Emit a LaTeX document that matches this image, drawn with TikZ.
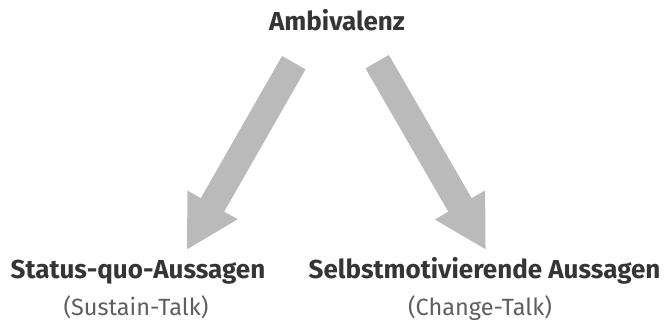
\documentclass[tikz,border=0pt]{standalone}
\usepackage{fontspec}
\setmainfont{Fira Sans}
\usetikzlibrary{arrows.meta}
\definecolor{txt}{RGB}{55,52,52}
\definecolor{arrowgray}{RGB}{186,186,186}
\tikzset{
  headline/.style={font=\fontsize{26}{30}\selectfont\bfseries, text=txt, anchor=base, inner sep=0pt},
  subline/.style={font=\fontsize{23.5}{28}\selectfont, text=txt!80, anchor=base, inner sep=0pt},
  bigarrow/.style={draw=arrowgray, line width=27pt, line cap=butt,
    -{Triangle[width=54pt,length=52pt]}}
}
\begin{document}
\begin{tikzpicture}[x=1pt,y=-1pt]
\useasboundingbox (0,0) rectangle (665,322);
\node[headline] (amb) at (337,30) {Ambivalenz};
\node[headline] (sq) at (138,278) {Status-quo-Aussagen};
\node[headline] (sm) at (484.5,278) {Selbstmotivierende Aussagen};
\node[subline] (st) at (136,315) {(Sustain-Talk)};
\node[subline] (ct) at (480,315) {(Change-Talk)};
\coordinate (lt) at (293.8,62.7);
\coordinate (lh) at (186.7,250);
\coordinate (rt) at (377.2,61.7);
\coordinate (rh) at (486,250);
\draw[bigarrow] (lt) -- (lh);
\draw[bigarrow] (rt) -- (rh);
\end{tikzpicture}
\end{document}
